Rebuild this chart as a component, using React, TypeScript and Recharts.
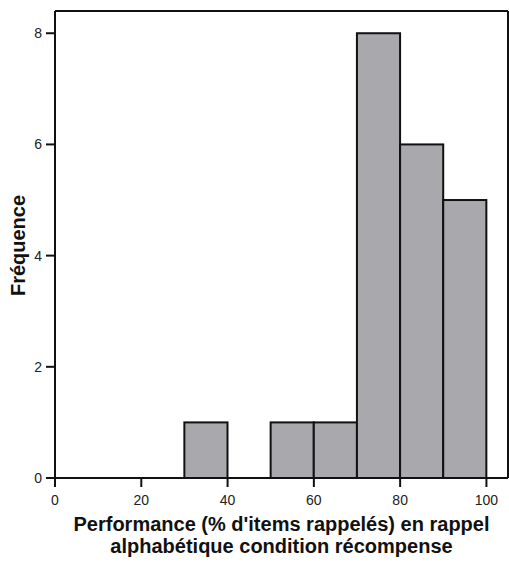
import { BarChart, Bar, XAxis, YAxis, Label, ReferenceLine } from "recharts";

// histogram bins (start of 10-point bin) and counts
const binStarts = [0, 10, 20, 30, 40, 50, 60, 70, 80, 90];
const counts = [0, 0, 0, 1, 0, 1, 1, 8, 6, 5];
const binWidth = 10;

const xTicks = [0, 20, 40, 60, 80, 100];
const yTicks = [0, 2, 4, 6, 8];
const xTitle = ["Performance (% d'items rappelés) en rappel", "alphabétique condition récompense"];
const yTitle = "Fréquence";

const W = 509;
const H = 562;
const margin = { top: 11, right: 1, bottom: 0, left: 0 };
const yAxisWidth = 55;
const xAxisHeight = 84;
const xDomain: [number, number] = [0, 105];
const yDomain: [number, number] = [0, 8.4];

const font = "'Liberation Sans', Arial, sans-serif";
const ink = "#111";

const data = binStarts.map((s, i) => ({ mid: s + binWidth / 2, count: counts[i] }));

const plotW = W - margin.left - margin.right - yAxisWidth;
const binPx = (plotW / (xDomain[1] - xDomain[0])) * binWidth;

// full-width histogram bar, centred on the scaled bin midpoint
function HistBar(props: any) {
  const { x, y, width, height } = props;
  if (!height || height <= 0) return null;
  const cx = x + width / 2;
  return (
    <rect
      x={cx - binPx / 2}
      y={y}
      width={binPx}
      height={height}
      fill="#a8a8ad"
      stroke={ink}
      strokeWidth={2}
    />
  );
}

function XTitle(props: any) {
  const vb = props.viewBox;
  const cx = vb.x + vb.width / 2;
  return (
    <text x={cx} textAnchor="middle" fontFamily={font} fontWeight="bold" fontSize={20} fill={ink}>
      <tspan x={cx} y={vb.y + 53}>{xTitle[0]}</tspan>
      <tspan x={cx} y={vb.y + 75}>{xTitle[1]}</tspan>
    </text>
  );
}

function YTitle(props: any) {
  const vb = props.viewBox;
  const cy = vb.y + vb.height / 2 + 1;
  return (
    <text
      x={18}
      y={cy}
      transform={`rotate(-90, 18, ${cy})`}
      textAnchor="middle"
      dominantBaseline="central"
      fontFamily={font}
      fontWeight="bold"
      fontSize={20}
      fill={ink}
    >
      {yTitle}
    </text>
  );
}

export default function App() {
  return (
    <div style={{ position: "absolute", left: 0, top: 0, width: W, height: H, background: "#fff" }}>
      <BarChart width={W} height={H} data={data} margin={margin} barCategoryGap={0}>
        <XAxis
          xAxisId="bottom"
          dataKey="mid"
          type="number"
          domain={xDomain}
          ticks={xTicks}
          allowDataOverflow
          height={xAxisHeight}
          axisLine={{ stroke: ink, strokeWidth: 2 }}
          tickLine={{ stroke: ink, strokeWidth: 2 }}
          tickSize={9}
          tickMargin={8}
          tick={{ fontFamily: font, fontSize: 14, fill: "#222" }}
        >
          <Label content={XTitle} />
        </XAxis>
        <YAxis
          yAxisId="left"
          domain={yDomain}
          ticks={yTicks}
          allowDataOverflow
          width={yAxisWidth}
          axisLine={{ stroke: ink, strokeWidth: 2 }}
          tickLine={{ stroke: ink, strokeWidth: 2 }}
          tickSize={9}
          tickMargin={4}
          tick={{ fontFamily: font, fontSize: 14, fill: "#222" }}
        >
          <Label content={YTitle} />
        </YAxis>
        <ReferenceLine xAxisId="bottom" yAxisId="left" y={yDomain[1]} stroke={ink} strokeWidth={2} />
        <ReferenceLine xAxisId="bottom" yAxisId="left" x={xDomain[1]} stroke={ink} strokeWidth={2} />
        <Bar
          xAxisId="bottom"
          yAxisId="left"
          dataKey="count"
          shape={HistBar}
          isAnimationActive={false}
        />
      </BarChart>
    </div>
  );
}
